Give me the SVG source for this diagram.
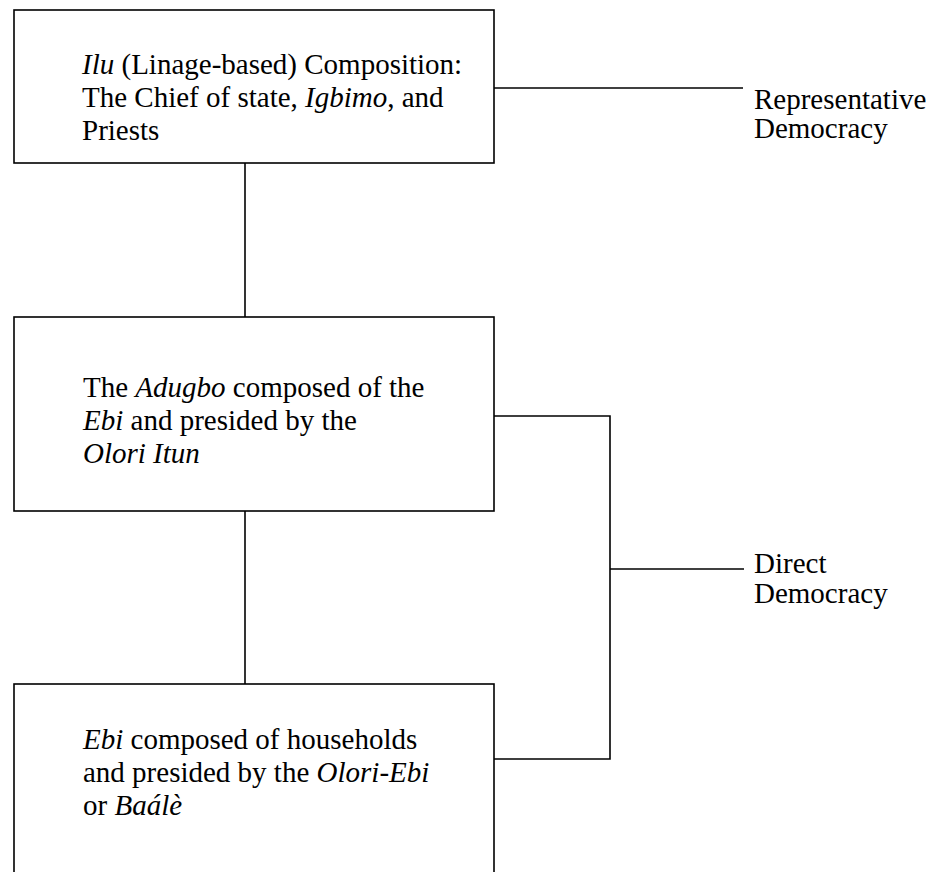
<svg xmlns="http://www.w3.org/2000/svg" width="934" height="872" viewBox="0 0 934 872">
  <style>
    .box { fill: #ffffff; stroke: #000000; stroke-width: 1.6; }
    .wire { fill: none; stroke: #000000; stroke-width: 1.6; }
    text { font-family: "Liberation Serif", "Times New Roman", serif; font-size: 29px; fill: #000000; }
    .it { font-style: italic; }
  </style>
  <rect width="934" height="872" fill="#ffffff"/>

  <!-- connectors -->
  <g id="connectors">
    <line class="wire" x1="245" y1="163" x2="245" y2="317"/>
    <line class="wire" x1="245" y1="511" x2="245" y2="684"/>
    <line class="wire" x1="494" y1="88" x2="743" y2="88"/>
    <polyline class="wire" points="494,416 610,416 610,759 494,759"/>
    <line class="wire" x1="610" y1="569" x2="744" y2="569"/>
  </g>

  <!-- lineage level -->
  <g id="ilu">
    <rect class="box" x="14" y="10" width="480" height="153"/>
    <text x="82" y="74"><tspan class="it">Ilu</tspan> (Linage-based) Composition:</text>
    <text x="82" y="107">The Chief of state, <tspan class="it">Igbimo</tspan>, and</text>
    <text x="82" y="140">Priests</text>
  </g>

  <!-- ward level -->
  <g id="adugbo">
    <rect class="box" x="14" y="317" width="480" height="194"/>
    <text x="83" y="397">The <tspan class="it">Adugbo</tspan> composed of the</text>
    <text x="83" y="430"><tspan class="it">Ebi</tspan> and presided by the</text>
    <text x="83" y="463"><tspan class="it">Olori Itun</tspan></text>
  </g>

  <!-- family level -->
  <g id="ebi">
    <rect class="box" x="14" y="684" width="480" height="200"/>
    <text x="83" y="749"><tspan class="it">Ebi</tspan> composed of households</text>
    <text x="83" y="782">and presided by the <tspan class="it">Olori-Ebi</tspan></text>
    <text x="83" y="815">or <tspan class="it">Baálè</tspan></text>
  </g>

  <!-- democracy labels -->
  <g id="representative">
    <text x="754" y="109">Representative</text>
    <text x="754" y="138">Democracy</text>
  </g>
  <g id="direct">
    <text x="754" y="573">Direct</text>
    <text x="754" y="603">Democracy</text>
  </g>
</svg>
